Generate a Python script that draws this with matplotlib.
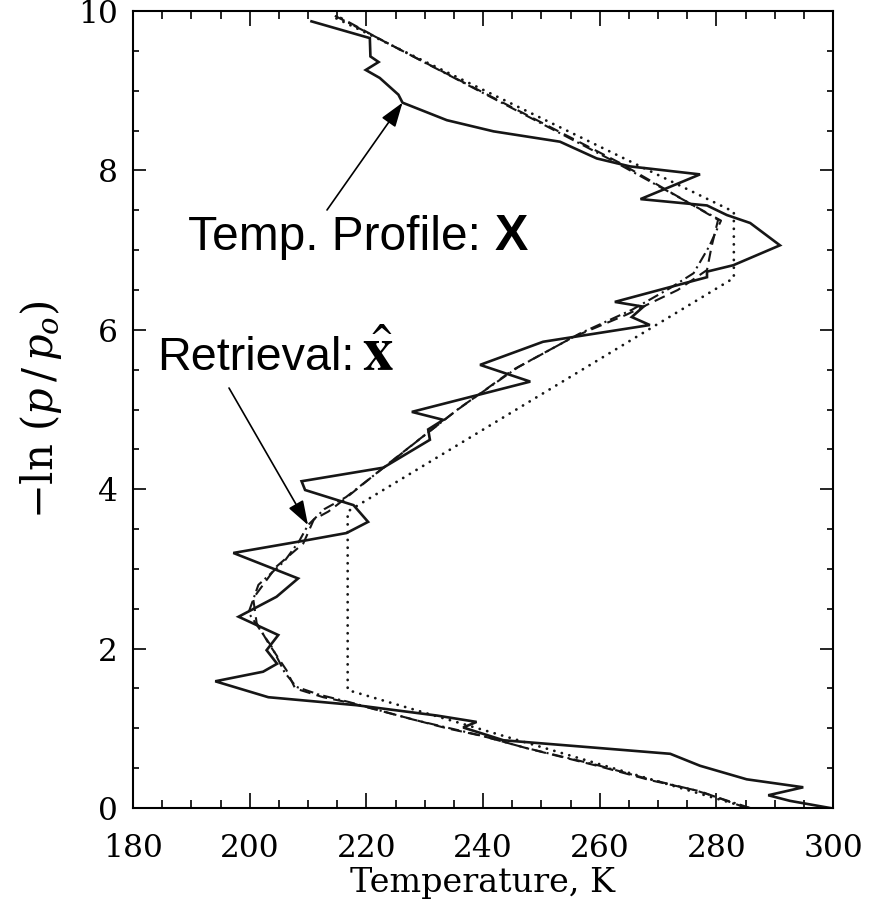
import matplotlib
matplotlib.use("Agg")
import matplotlib.pyplot as plt
from matplotlib.ticker import MultipleLocator

# true temperature profile (solid), surface -> top
T_true = [299.5, 292.6, 288.9, 294.9, 285.2, 277.2, 272.1, 243.5, 236.6, 238.9,
          232.1, 218.3, 203.2, 194.1, 202.3, 204.7, 202.9, 204.9, 198.1, 204.6,
          208.3, 197.2, 209.8, 216.6, 220.3, 217.8, 209.5, 208.9, 222.9, 230.9,
          230.6, 233.2, 227.8, 248.1, 239.5, 250.3, 268.6, 265.5, 267.5, 262.6,
          278.4, 278.4, 282.9, 290.9, 285.8, 281.8, 278.4, 267.0, 277.2, 265.2,
          259.5, 253.2, 241.8, 233.8, 226.2, 225.5, 222.3, 219.9, 222.1, 220.7,
          220.6, 210.6]
h_true = [0.00, 0.09, 0.16, 0.26, 0.36, 0.53, 0.68, 0.85, 1.01, 1.08,
          1.16, 1.29, 1.39, 1.59, 1.71, 1.81, 1.98, 2.17, 2.40, 2.65,
          2.88, 3.20, 3.36, 3.45, 3.59, 3.80, 3.99, 4.10, 4.27, 4.62,
          4.75, 4.87, 4.97, 5.35, 5.56, 5.85, 6.06, 6.16, 6.29, 6.35,
          6.66, 6.73, 6.81, 7.06, 7.34, 7.44, 7.56, 7.64, 7.95, 8.05,
          8.15, 8.36, 8.49, 8.63, 8.85, 8.95, 9.16, 9.26, 9.36, 9.43,
          9.66, 9.87]

# retrieval 1 (dashed)
T_r1 = [285.2, 277.2, 268.6, 260.1, 247.5, 240.1, 233.8, 228.6, 222.9, 217.2,
        212.6, 207.8, 206.3, 203.2, 201.2, 200.6, 204.6, 209.2, 211.0, 213.5,
        216.0, 222.9, 229.5, 235.5, 245.2, 255.5, 264.6, 273.4, 278.4, 279.2,
        280.3, 263.3, 223.0, 215.5]
h_r1 = [0.00, 0.21, 0.35, 0.52, 0.75, 0.90, 1.00, 1.10, 1.21, 1.32,
        1.39, 1.50, 1.73, 2.07, 2.32, 2.63, 3.03, 3.32, 3.62, 3.72,
        3.86, 4.27, 4.65, 4.99, 5.50, 5.91, 6.19, 6.50, 6.75, 7.05,
        7.38, 8.10, 9.62, 9.92]

# retrieval 2 (dash-dot)
T_r2 = [285.8, 276.5, 268.0, 259.5, 247.0, 239.6, 233.2, 228.0, 222.5, 217.0,
        212.0, 208.0, 206.0, 203.8, 199.8, 201.5, 206.0, 208.5, 210.0, 212.8,
        216.5, 223.5, 229.0, 236.0, 246.0, 256.5, 265.5, 272.0, 276.1, 278.8,
        280.8, 262.0, 222.0, 214.6]
h_r2 = [0.00, 0.22, 0.37, 0.54, 0.76, 0.91, 1.02, 1.11, 1.22, 1.33,
        1.42, 1.52, 1.70, 2.02, 2.45, 2.80, 3.10, 3.35, 3.55, 3.75,
        3.90, 4.30, 4.62, 5.02, 5.53, 5.95, 6.25, 6.52, 6.71, 7.05,
        7.37, 8.13, 9.66, 9.94]

# a priori profile (dotted)
T_apr = [285.5, 216.8, 216.8, 283.0, 283.0, 214.5]
h_apr = [0.00, 1.48, 3.72, 6.65, 7.48, 9.92]

x_ticks = [180, 200, 220, 240, 260, 280, 300]
y_ticks = [0, 2, 4, 6, 8, 10]

plt.rcParams['font.family'] = ['DejaVu Serif']
plt.rcParams['mathtext.fontset'] = 'dejavuserif'
plt.rcParams['lines.scale_dashes'] = False

fig = plt.figure(figsize=(8.74, 9.10), dpi=100)
ax = fig.add_axes([133/874, 102/910, 700/874, 797/910])

ink = '#161616'
ax.plot(T_true, h_true, color=ink, lw=1.9, solid_joinstyle='miter')
ax.plot(T_r1, h_r1, color=ink, lw=1.5, dashes=(8, 4.5))
ax.plot(T_r2, h_r2, color=ink, lw=1.5, dashes=(8, 3, 1.5, 3))
ax.plot(T_apr, h_apr, color=ink, lw=2.0, dashes=(0.1, 5.5), dash_capstyle='round')

ax.set_xlim(180, 300)
ax.set_ylim(0, 10)
ax.set_xticks(x_ticks)
ax.set_yticks(y_ticks)
ax.xaxis.set_minor_locator(MultipleLocator(5))
ax.yaxis.set_minor_locator(MultipleLocator(0.5))
ax.tick_params(which='both', direction='in', top=True, right=True,
               width=1.2, labelsize=22.5)
ax.tick_params(axis='x', which='major', length=11, pad=18)
ax.tick_params(axis='x', which='minor', length=5.5)
ax.tick_params(axis='y', which='major', length=9.5, pad=11)
ax.tick_params(axis='y', which='minor', length=4)
for s in ax.spines.values():
    s.set_linewidth(1.5)

ax.set_xlabel('Temperature, K', fontsize=24, labelpad=2)
ax.set_ylabel(r'$-\ln\,(p\,/\,p_o)$', fontsize=30, labelpad=10)

# annotations
sans = 'Liberation Sans'
fig.text(188/874, 660/910, 'Temp. Profile:', fontsize=34.5, family=sans, va='baseline')
fig.text(495/874, 660/910, 'X', fontsize=36, family=sans, weight='bold', va='baseline')
fig.text(157/874, 540/910, 'Retrieval:', fontsize=33.6, family=sans, va='baseline')
fig.text(362/874, 540/910, r'$\hat{\mathbf{x}}$', fontsize=44, math_fontfamily='stix',
         va='baseline')

arrow = dict(arrowstyle='-|>,head_length=0.5,head_width=0.17', color='black', lw=1.2,
             mutation_scale=30, shrinkA=0, shrinkB=0)
ax.annotate('', xy=(T_true[54], h_true[54]), xycoords='data',
            xytext=(327, 700), textcoords='figure pixels', arrowprops=arrow)
ax.annotate('', xy=(T_r2[18], h_r2[18]), xycoords='data',
            xytext=(229, 522), textcoords='figure pixels', arrowprops=arrow)

fig.savefig('out.png', dpi=100)
